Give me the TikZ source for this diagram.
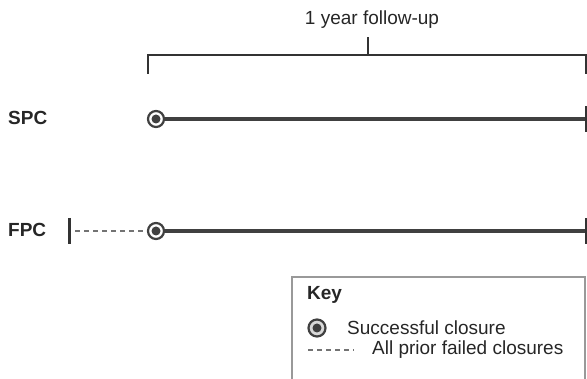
\documentclass[tikz,border=0pt]{standalone}
\usepackage{fontspec}
\setmainfont{Liberation Sans}
\usetikzlibrary{positioning}
\tikzset{
    mylabel/.style = {anchor=west, inner sep=0pt, font=\bfseries\fontsize{19}{22}\selectfont, text=black!85},
    mytext/.style = {anchor=west, inner sep=0pt, font=\fontsize{19}{22}\selectfont, text=black!85},
    mydot/.style = {circle, draw=black!75, line width=2.2pt, fill=white, minimum size=16pt, inner sep=0pt,
        path picture={\fill[black!75] (path picture bounding box.center) circle (4.5pt);}},
    edgen/.style = {-,line width=4.5pt,black!75}, % follow-up
    edgebar/.style = {-,line width=3pt,black!80}, % end marks
    edged/.style = {-,line width=1.6pt,black!55,dash pattern=on 5pt off 4pt}, % failed closures
    edgebr/.style = {-,line width=1.8pt,black!80}, % bracket
    edgekey/.style = {-,line width=1.5pt,black!40}
}

\begin{document}
\begin{tikzpicture}[x=1pt,y=-1pt]
  \useasboundingbox (0,0) rectangle (587,379);
  % bracket
  \node[mytext, anchor=center] (title) at (372,20) {1 year follow-up};
  \coordinate (brl) at (148,55);
  \coordinate (brr) at (586,55);
  \coordinate (brm) at (368,55);
  \draw[edgebr] ([yshift=-19pt]brl) -- (brl) -- (brr) -- ([yshift=-19pt]brr);
  \draw[edgebr] (brm) -- ([yshift=18pt]brm);
  % SPC
  \node[mylabel] (spc) at (8,118) {SPC};
  \node[mydot] (spcdot) at (156,119) {};
  \coordinate (spcend) at (586,119);
  \draw[edgen] (spcdot) -- (spcend);
  \draw[edgebar] ([yshift=13pt]spcend) -- ([yshift=-13pt]spcend);
  % FPC
  \node[mylabel] (fpc) at (8,230) {FPC};
  \coordinate (fpcbar) at (69,231);
  \node[mydot] (fpcdot) at (156,231) {};
  \coordinate (fpcend) at (586,231);
  \draw[edgebar] ([yshift=13pt]fpcbar) -- ([yshift=-13pt]fpcbar);
  \draw[edged] ([xshift=6pt]fpcbar) -- (fpcdot);
  \draw[edgen] (fpcdot) -- (fpcend);
  \draw[edgebar] ([yshift=13pt]fpcend) -- ([yshift=-13pt]fpcend);
  % key
  \draw[edgekey] (292,379) -- (292,277) -- (585,277) -- (585,379);
  \node[mylabel] (key) at (307,295) {Key};
  \node[mydot, minimum size=17pt, fill=black!15] (keydot) at (317,328) {};
  \node[mytext] (keysuc) at (347,328) {Successful closure};
  \coordinate (keyd1) at (308,350);
  \coordinate (keyd2) at (354,350);
  \draw[edged, line width=1.2pt, dash pattern=on 5pt off 4pt] (keyd1) -- (keyd2);
  \node[mytext] (keyfail) at (372,350) {All prior failed closures};
\end{tikzpicture}
\end{document}
